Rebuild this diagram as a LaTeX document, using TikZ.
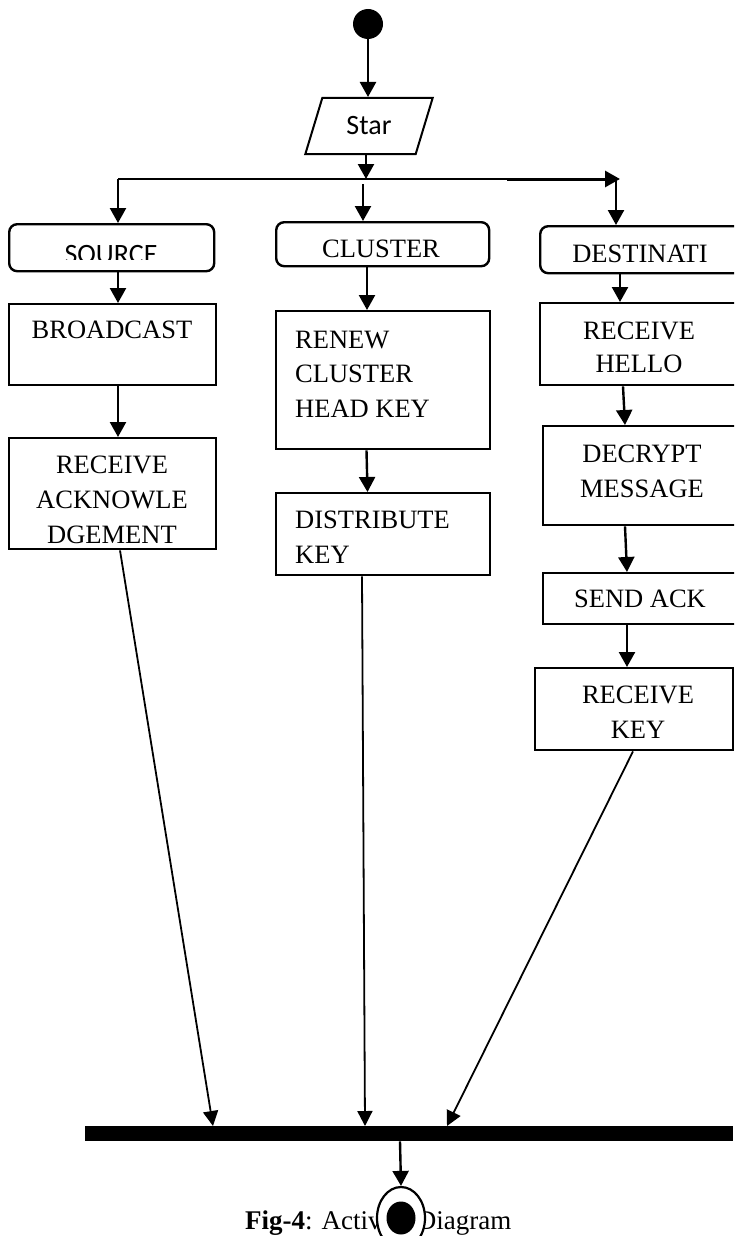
\documentclass[tikz,border=0pt]{standalone}
\usepackage{fontspec}
\setmainfont{Liberation Serif}
\newfontfamily\calib{Carlito}
\usetikzlibrary{arrows.meta,shapes.geometric}
\begin{document}
\begin{tikzpicture}[x=1pt,y=-1pt,
  box/.style={draw, line width=2.4pt, inner sep=0pt, anchor=north west},
  rbox/.style={box, rounded corners=8pt},
  lbl/.style={anchor=base, inner sep=0pt, font=\fontsize{26.5}{30}\selectfont},
  lbll/.style={lbl, anchor=base west},
  arr/.style={-{Triangle[length=15pt 0 0,width=16pt 0 0]}, line width=2.4pt},
  thin arr/.style={-{Triangle[length=15pt 0 0,width=15pt 0 0]}, line width=1.8pt}]
\useasboundingbox (0,0) rectangle (734,1236);
\clip (0,0) rectangle (734,1236);

% start node
\node[circle, fill, minimum size=30pt, inner sep=0pt] (start) at (368,24) {};
\node[trapezium, draw, line width=2pt, trapezium left angle=66, trapezium right angle=114,
      trapezium stretches=true, minimum width=128pt, minimum height=56pt, inner sep=0pt,
      font=\calib\fontsize{28}{30}\selectfont] (star) at (369,126) {Star};
\coordinate (split) at (366,179);
\coordinate (hl) at (118,179);
\coordinate (hm) at (507,179);
\coordinate (hr) at (620,179);
\coordinate (hc) at (363,184);
\coordinate (hd) at (616,179);
\draw[arr] (start.south) -- (start.south |- star.north);
\draw[arr] (star.south -| split) -- (split);

% header boxes
\node[rbox, minimum width=205pt, minimum height=47pt] (src) at (8,223) {};
\node[rbox, minimum width=213pt, minimum height=44pt] (clu) at (275,221) {};
\node[rbox, minimum width=230pt, minimum height=47pt] (dst) at (539,225) {};
\begin{scope}
  \clip (8,223) rectangle (213,259);
  \node[lbl, font=\calib\fontsize{28}{30}\selectfont] (srct) at (111,263) {SOURCE};
\end{scope}
\node[lbl] (clut) at (381,257) {CLUSTER};
\node[lbl] (dstt) at (640,262) {DESTINATI};

% fork lines
\draw[line width=2pt] (hl) -- (hm);
\draw[arr, line width=3pt] (hm) -- (hr);
\draw[arr] (hl) -- (hl |- src.north);
\draw[arr] (hc) -- (hc |- clu.north);
\draw[arr] (hd) -- (hd |- dst.north);

% source column
\node[box, minimum width=207pt, minimum height=81pt] (bc) at (8,303) {};
\node[lbl] (bct) at (112,338) {BROADCAST};
\node[box, minimum width=207pt, minimum height=111pt] (rack) at (8,437) {};
\node[lbl] (rackt1) at (112,473) {RECEIVE};
\node[lbl] (rackt2) at (112,508) {ACKNOWLE};
\node[lbl] (rackt3) at (112,543) {DGEMENT};
\draw[arr] (src.south -| hl) -- (bc.north -| hl);
\draw[arr] (bc.south -| hl) -- (rack.north -| hl);

% cluster column
\node[box, minimum width=214pt, minimum height=138pt] (renew) at (275,310) {};
\node[lbll] (renewt1) at (295,348) {RENEW};
\node[lbll] (renewt2) at (295,382) {CLUSTER};
\node[lbll] (renewt3) at (295,417) {HEAD KEY};
\node[box, minimum width=214pt, minimum height=82pt] (dist) at (275,492) {};
\node[lbll] (distt1) at (295,528) {DISTRIBUTE};
\node[lbll] (distt2) at (295,563) {KEY};
\draw[arr] (clu.south -| 367,0) -- (renew.north -| 367,0);
\draw[arr] (renew.south -| 366.5,0) -- (dist.north -| 367.5,0);

% destination column
\node[box, minimum width=221pt, minimum height=82pt] (rhello) at (539,302) {};
\node[lbl] (rhellot1) at (639,339) {RECEIVE};
\node[lbl] (rhellot2) at (639,372) {HELLO};
\node[box, minimum width=218pt, minimum height=99pt] (decr) at (542,425) {};
\node[lbl] (decrt1) at (642,462) {DECRYPT};
\node[lbl] (decrt2) at (642,497) {MESSAGE};
\node[box, minimum width=218pt, minimum height=51pt] (sack) at (542,572) {};
\node[lbl] (sackt) at (640,607) {SEND ACK};
\node[box, minimum width=198pt, minimum height=82pt] (rkey) at (534,667) {};
\node[lbl] (rkeyt1) at (638,703) {RECEIVE};
\node[lbl] (rkeyt2) at (638,738) {KEY};
\draw[arr] (dst.south -| 620,0) -- (rhello.north -| 620,0);
\draw[arr] (rhello.south -| 623,0) -- (decr.north -| 625,0);
\draw[arr] (decr.south -| 625,0) -- (sack.north -| 627,0);
\draw[arr] (sack.south -| 627,0) -- (rkey.north -| 627,0);

% join bar
\node[fill, inner sep=0pt, minimum width=648pt, minimum height=15pt, anchor=north west] (bar) at (85,1126) {};
\draw[thin arr] (rack.south -| 120,0) -- (bar.north -| 213,0);
\draw[thin arr] (dist.south -| 362,0) -- (bar.north -| 365,0);
\draw[thin arr] (rkey.south -| 633,0) -- (bar.north -| 447,0);

% caption and end node
\node[anchor=base west, inner sep=0pt, font=\fontsize{27}{30}\selectfont] (cap) at (245,1229) {\textbf{Fig-4}: Activity Diagram};
\node[ellipse, draw, fill=white, line width=2.2pt, minimum width=48pt, minimum height=62pt, inner sep=0pt] (end) at (401,1218) {};
\node[ellipse, fill, minimum width=29pt, minimum height=33pt, inner sep=0pt] (endin) at (end.center) {};
\draw[arr] (bar.south -| 400,0) -- (end.north);
\end{tikzpicture}
\end{document}
